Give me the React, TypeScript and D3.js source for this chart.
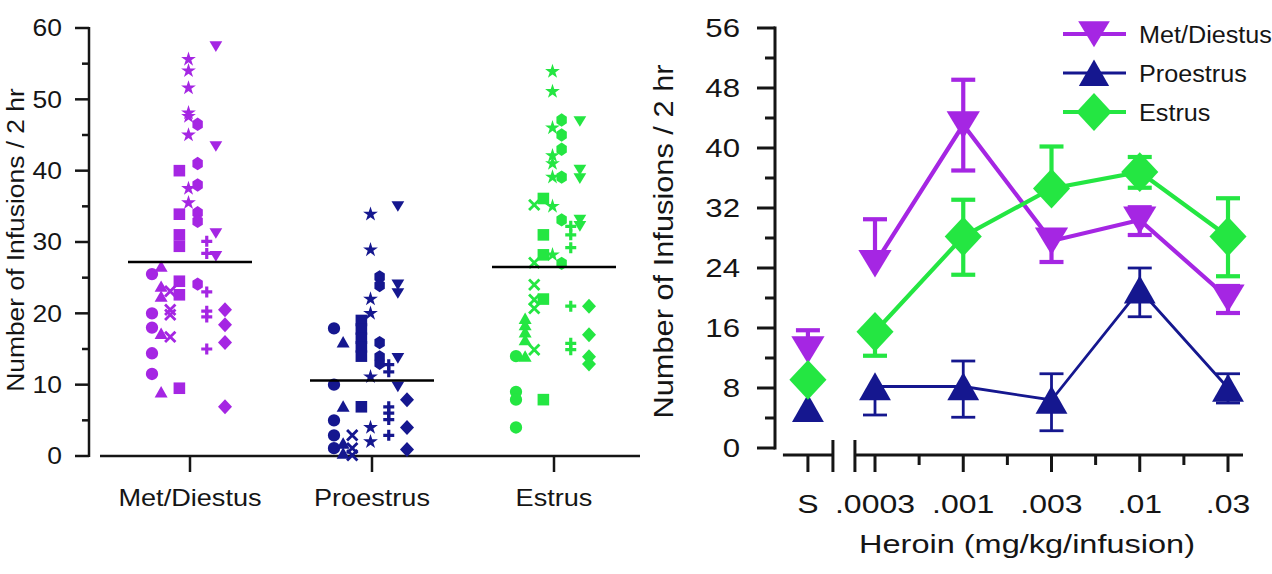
import React, { useEffect, useRef } from 'react';
import * as d3 from 'd3';

// ---- left panel: individual rats (one symbol per rat), infusions / 2 hr
const phases = ['Met/Diestus', 'Proestrus', 'Estrus'];
const phaseMeans = [27.2, 10.6, 26.5];
const ratSymbols = ['circle', 'triangle', 'cross', 'square', 'star', 'hexagon', 'plus', 'triangleDown', 'diamond'];

const metDiestusPoints: [string, number][] = [
  ['circle', 25.5], ['circle', 20.0], ['circle', 18.0], ['circle', 14.4], ['circle', 11.5],
  ['triangle', 26.6], ['triangle', 23.8], ['triangle', 22.4], ['triangle', 17.2], ['triangle', 9.0],
  ['cross', 23.1], ['cross', 20.5], ['cross', 19.8], ['cross', 16.7],
  ['square', 40.0], ['square', 33.9], ['square', 31.0], ['square', 29.4], ['square', 24.5], ['square', 22.6], ['square', 9.5],
  ['star', 55.6], ['star', 54.0], ['star', 51.6], ['star', 48.1], ['star', 47.6], ['star', 45.0], ['star', 37.5], ['star', 35.5],
  ['hexagon', 46.5], ['hexagon', 41.0], ['hexagon', 38.0], ['hexagon', 34.1], ['hexagon', 32.9], ['hexagon', 24.1],
  ['plus', 30.1], ['plus', 28.4], ['plus', 23.0], ['plus', 20.3], ['plus', 19.5], ['plus', 15.0],
  ['triangleDown', 57.4], ['triangleDown', 43.4], ['triangleDown', 31.2], ['triangleDown', 28.0],
  ['diamond', 20.5], ['diamond', 18.4], ['diamond', 15.9], ['diamond', 6.9],
];

const proestrusPoints: [string, number][] = [
  ['circle', 17.9], ['circle', 10.0], ['circle', 5.0], ['circle', 2.9], ['circle', 1.1],
  ['triangle', 16.0], ['triangle', 7.0], ['triangle', 1.8], ['triangle', 0.4],
  ['cross', 2.9], ['cross', 1.1], ['cross', 0.1],
  ['square', 19.0], ['square', 17.8], ['square', 16.5], ['square', 15.3], ['square', 14.0], ['square', 6.9],
  ['star', 33.9], ['star', 28.9], ['star', 22.0], ['star', 20.0], ['star', 11.1], ['star', 4.0], ['star', 2.0],
  ['hexagon', 25.1], ['hexagon', 23.9], ['hexagon', 15.9], ['hexagon', 13.9], ['hexagon', 13.0],
  ['plus', 12.8], ['plus', 11.8], ['plus', 6.9], ['plus', 6.0], ['plus', 5.1], ['plus', 2.9],
  ['triangleDown', 35.0], ['triangleDown', 24.0], ['triangleDown', 22.8], ['triangleDown', 13.7], ['triangleDown', 9.7],
  ['diamond', 7.9], ['diamond', 4.0], ['diamond', 0.9],
];

const estrusPoints: [string, number][] = [
  ['circle', 14.0], ['circle', 9.0], ['circle', 7.9], ['circle', 4.0],
  ['triangle', 19.3], ['triangle', 18.4], ['triangle', 17.4], ['triangle', 16.3], ['triangle', 14.0],
  ['cross', 35.2], ['cross', 27.1], ['cross', 24.0], ['cross', 21.9], ['cross', 20.7], ['cross', 14.9],
  ['square', 36.1], ['square', 31.0], ['square', 28.2], ['square', 22.0], ['square', 7.9],
  ['star', 53.9], ['star', 51.1], ['star', 46.0], ['star', 42.1], ['star', 41.0], ['star', 39.1], ['star', 35.0], ['star', 28.2],
  ['hexagon', 47.1], ['hexagon', 45.0], ['hexagon', 43.0], ['hexagon', 39.1], ['hexagon', 33.1], ['hexagon', 27.0],
  ['plus', 32.2], ['plus', 31.0], ['plus', 29.2], ['plus', 21.0], ['plus', 15.8], ['plus', 14.9],
  ['triangleDown', 46.9], ['triangleDown', 40.1], ['triangleDown', 38.9], ['triangleDown', 33.1], ['triangleDown', 32.2],
  ['diamond', 21.0], ['diamond', 17.0], ['diamond', 13.9], ['diamond', 12.9],
];

// ---- right panel: dose response (first entry = saline)
const doseLabels = ['S', '.0003', '.001', '.003', '.01', '.03'];
const metDiestusMean = [13.1, 24.6, 43.1, 27.6, 30.4, 20.0];
const metDiestusHi = [15.7, 30.5, 49.1, 27.6, 32.1, 21.6];
const metDiestusLo = [13.1, 24.6, 37.0, 24.8, 28.4, 18.0];
const proestrusMean = [5.3, 8.2, 8.2, 6.4, 21.1, 8.0];
const proestrusHi = [5.3, 8.2, 11.6, 9.9, 24.0, 9.9];
const proestrusLo = [5.3, 4.4, 4.1, 2.3, 17.5, 6.0];
const estrusMean = [9.1, 15.5, 28.2, 34.6, 36.8, 28.2];
const estrusHi = [9.1, 15.5, 33.1, 40.2, 38.8, 33.3];
const estrusLo = [9.1, 12.3, 23.1, 34.6, 34.7, 22.9];

const colors = ['#a526e3', '#15178f', '#24e642'];
const FONT = '"Liberation Sans", Arial, sans-serif';
const INK = '#151515';

const polygon = (pts: number[][]) => 'M' + pts.map(p => p.join(',')).join('L') + 'Z';

// path for one symbol, k scales the whole glyph
function symbolPath(shape: string, k: number): string {
  switch (shape) {
    case 'circle':
      return d3.symbol(d3.symbolCircle, Math.PI * 38 * k * k)() as string;
    case 'star':
      return d3.symbol(d3.symbolStar, 68 * k * k)() as string;
    case 'triangle':
      return polygon([[0, -5.8 * k], [6.5 * k, 5.6 * k], [-6.5 * k, 5.6 * k]]);
    case 'triangleDown':
      return polygon([[-6.4 * k, -5.2 * k], [6.4 * k, -5.2 * k], [0, 5.4 * k]]);
    case 'square':
      return polygon([[-5.8 * k, -5.8 * k], [5.8 * k, -5.8 * k], [5.8 * k, 5.8 * k], [-5.8 * k, 5.8 * k]]);
    case 'diamond':
      return polygon([[0, -7.5 * k], [7 * k, 0], [0, 7.5 * k], [-7 * k, 0]]);
    case 'hexagon':
      return polygon(d3.range(6).map(i => {
        const a = (i * 60 - 90) * Math.PI / 180;
        return [6 * k * Math.cos(a), 6.7 * k * Math.sin(a)];
      }));
    case 'cross':
      return `M${-5.2 * k},${-5.2 * k}L${5.2 * k},${5.2 * k}M${5.2 * k},${-5.2 * k}L${-5.2 * k},${5.2 * k}`;
    case 'plus':
      return `M${-5.5 * k},0L${5.5 * k},0M0,${-5.5 * k}L0,${5.5 * k}`;
  }
  return '';
}

const isStroked = (shape: string) => shape === 'cross' || shape === 'plus';

const App = () => {
  const svgRef = useRef<SVGSVGElement>(null);

  useEffect(() => {
    const svg = d3.select(svgRef.current)
      .attr('width', 1272)
      .attr('height', 574)
      .html('');

    const label = (text: string, x: number, y: number, size: number, sx = 1, anchor = 'middle', rotate = 0) =>
      svg.append('text')
        .attr('transform', `translate(${x},${y}) rotate(${rotate}) scale(${sx},1)`)
        .attr('text-anchor', anchor)
        .attr('font-family', FONT)
        .attr('font-size', size)
        .attr('fill', INK)
        .text(text);

    // ================= LEFT PANEL =================
    const yL = d3.scaleLinear().domain([0, 60]).range([456, 28]);
    const xL = d3.scalePoint<string>().domain(phases).range([190, 554]);
    const xShape = d3.scalePoint<string>().domain(ratSymbols).range([-38, 35]);
    const leftAxisX = 89;

    // y axis
    svg.append('line')
      .attr('x1', leftAxisX).attr('x2', leftAxisX)
      .attr('y1', yL(60) - 1).attr('y2', yL(0) + 1)
      .attr('stroke', INK).attr('stroke-width', 2.5);
    d3.range(0, 61, 5).forEach(v => {
      const major = v % 10 === 0;
      svg.append('line')
        .attr('x1', leftAxisX - (major ? 14 : 7)).attr('x2', leftAxisX)
        .attr('y1', yL(v)).attr('y2', yL(v))
        .attr('stroke', INK).attr('stroke-width', 2.5);
      if (major) label(String(v), 62, yL(v) + 8.3, 23, 1.15, 'end');
    });
    label('Number of Infusions / 2 hr', 24, 240, 24, 1.1, 'middle', -90);

    // x axis
    svg.append('line')
      .attr('x1', 100).attr('x2', 640)
      .attr('y1', yL(0)).attr('y2', yL(0))
      .attr('stroke', INK).attr('stroke-width', 2.5);
    phases.forEach(p => {
      svg.append('line')
        .attr('x1', xL(p)!).attr('x2', xL(p)!)
        .attr('y1', yL(0)).attr('y2', yL(0) + 16)
        .attr('stroke', INK).attr('stroke-width', 2.5);
      label(p, xL(p)!, 506, 24, 1.13);
    });

    // scatter
    [metDiestusPoints, proestrusPoints, estrusPoints].forEach((pts, i) => {
      const cx = xL(phases[i])!;
      const g = svg.append('g');
      g.selectAll('path')
        .data(pts)
        .join('path')
        .attr('transform', d => `translate(${cx + xShape(d[0])!},${yL(d[1])})`)
        .attr('d', d => symbolPath(d[0], 1))
        .attr('fill', d => (isStroked(d[0]) ? 'none' : colors[i]))
        .attr('stroke', d => (isStroked(d[0]) ? colors[i] : 'none'))
        .attr('stroke-width', d => (d[0] === 'plus' ? 3.2 : 2.8));

      // mean line
      svg.append('line')
        .attr('x1', cx - 62).attr('x2', cx + 62)
        .attr('y1', yL(phaseMeans[i])).attr('y2', yL(phaseMeans[i]))
        .attr('stroke', '#000').attr('stroke-width', 2.5);
    });

    // ================= RIGHT PANEL =================
    const yR = d3.scaleLinear().domain([0, 56]).range([448, 28]);
    const xDose = d3.scalePoint<string>().domain(doseLabels.slice(1)).range([875, 1228]);
    const xPos = (i: number) => (i === 0 ? xDose(doseLabels[1])! - 0.76 * xDose.step() : xDose(doseLabels[i])!);
    const rightAxisX = 775;
    const baseY = 455;

    svg.append('line')
      .attr('x1', rightAxisX).attr('x2', rightAxisX)
      .attr('y1', yR(56) - 1.5).attr('y2', yR(0) + 1.5)
      .attr('stroke', INK).attr('stroke-width', 3);
    d3.range(0, 57, 4).forEach(v => {
      const major = v % 8 === 0;
      svg.append('line')
        .attr('x1', rightAxisX - (major ? 18 : 10)).attr('x2', rightAxisX)
        .attr('y1', yR(v)).attr('y2', yR(v))
        .attr('stroke', INK).attr('stroke-width', 3);
      if (major) label(String(v), 740, yR(v) + 9.3, 26, 1.2, 'end');
    });
    label('Number of Infusions / 2 hr', 673, 241.5, 27, 1.14, 'middle', -90);

    // broken x axis
    const sx = xPos(0);
    const seg2Start = sx + 47;
    [[sx - 25, sx + 25], [seg2Start, xDose('.03')! + 15]].forEach(([a, b]) => {
      svg.append('line')
        .attr('x1', a).attr('x2', b)
        .attr('y1', baseY).attr('y2', baseY)
        .attr('stroke', INK).attr('stroke-width', 3);
    });
    [sx + 25, seg2Start].forEach(bx => {
      svg.append('line')
        .attr('x1', bx).attr('x2', bx)
        .attr('y1', baseY - 15).attr('y2', baseY + 17)
        .attr('stroke', INK).attr('stroke-width', 3);
    });
    doseLabels.forEach((d, i) => {
      const x = xPos(i);
      svg.append('line')
        .attr('x1', x).attr('x2', x)
        .attr('y1', baseY).attr('y2', baseY + 17)
        .attr('stroke', INK).attr('stroke-width', 3);
      label(d, x, 513, 25.6, 1.25);
      if (i >= 1 && i < doseLabels.length - 1) {
        const mx = x + xDose.step() / 2;
        svg.append('line')
          .attr('x1', mx).attr('x2', mx)
          .attr('y1', baseY).attr('y2', baseY + 10)
          .attr('stroke', INK).attr('stroke-width', 3);
      }
    });
    label('Heroin (mg/kg/infusion)', 1027, 553, 25.6, 1.27);

    const series = [
      { name: 'Met/Diestus', mean: metDiestusMean, hi: metDiestusHi, lo: metDiestusLo, shape: 'triangleDown', lw: 4.2, k: 2.6 },
      { name: 'Proestrus', mean: proestrusMean, hi: proestrusHi, lo: proestrusLo, shape: 'triangle', lw: 2.8, k: 2.45 },
      { name: 'Estrus', mean: estrusMean, hi: estrusHi, lo: estrusLo, shape: 'diamond', lw: 4.2, k: 2.65 },
    ];

    const line = d3.line<number>()
      .x((_, j) => xPos(j + 1))
      .y(d => yR(d));

    series.forEach((s, i) => {
      const c = colors[i];
      const g = svg.append('g');
      g.append('path')
        .datum(s.mean.slice(1))
        .attr('fill', 'none')
        .attr('stroke', c)
        .attr('stroke-width', s.lw)
        .attr('d', line);

      s.mean.forEach((m, j) => {
        const x = xPos(j);
        [s.hi[j], s.lo[j]].forEach(end => {
          if (Math.abs(end - m) < 0.01) return;
          g.append('line')
            .attr('x1', x).attr('x2', x)
            .attr('y1', yR(m)).attr('y2', yR(end))
            .attr('stroke', c).attr('stroke-width', s.lw);
          g.append('line')
            .attr('x1', x - 12).attr('x2', x + 12)
            .attr('y1', yR(end)).attr('y2', yR(end))
            .attr('stroke', c).attr('stroke-width', s.lw);
        });
      });

      g.selectAll('path.marker')
        .data(s.mean)
        .join('path')
        .attr('class', 'marker')
        .attr('transform', (d, j) => `translate(${xPos(j)},${yR(d)})`)
        .attr('d', symbolPath(s.shape, s.k))
        .attr('fill', c);

      // legend
      const ly = 34 + i * 39;
      svg.append('line')
        .attr('x1', 1063).attr('x2', 1126)
        .attr('y1', ly).attr('y2', ly)
        .attr('stroke', c).attr('stroke-width', s.lw);
      svg.append('path')
        .attr('transform', `translate(1094,${ly})`)
        .attr('d', symbolPath(s.shape, s.k * 0.95))
        .attr('fill', c);
      label(s.name, 1139, ly + 8.5, 24, 1.05, 'start');
    });
  }, []);

  return (
    <svg
      ref={svgRef}
      style={{ position: 'absolute', left: 0, top: 0, display: 'block', background: '#fff' }}
    />
  );
};

export default App;
